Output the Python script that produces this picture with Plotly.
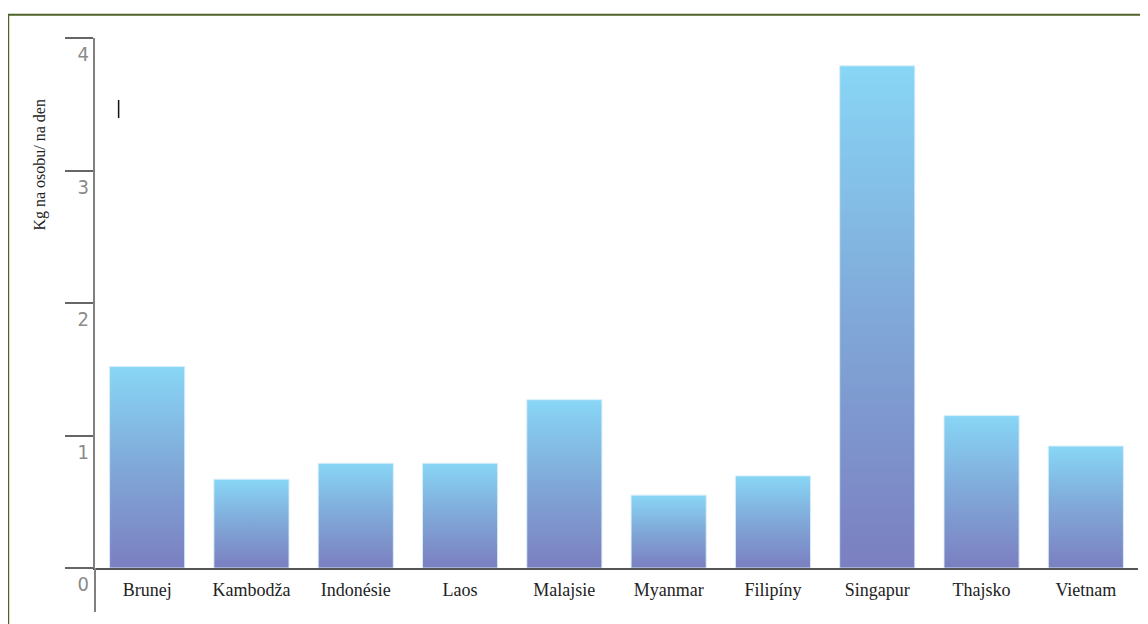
import plotly.graph_objects as go

categories = ["Brunej", "Kambodža", "Indonésie", "Laos", "Malajsie",
              "Myanmar", "Filipíny", "Singapur", "Thajsko", "Vietnam"]
values = [1.52, 0.67, 0.79, 0.79, 1.27, 0.55, 0.695, 3.79, 1.15, 0.92]
y_ticks = [0, 1, 2, 3, 4]
y_title = "Kg na osobu/ na den"

OFF = 8  # page body margin
W, H = 1148 - OFF, 624 - OFF
ML, MR, MT, MB = 95.4 - OFF, 10.4, 38 - OFF, 56
bar_w = 0.72

fig = go.Figure()
for i, (c, v) in enumerate(zip(categories, values)):
    x0, x1 = i - bar_w / 2, i + bar_w / 2
    fig.add_trace(go.Scatter(
        x=[x0, x1, x1, x0, x0], y=[0, 0, v, v, 0],
        mode="lines", fill="toself",
        line=dict(width=1, color="rgba(215,238,250,0.9)"),
        fillgradient=dict(type="vertical",
                          colorscale=[[0, "#7b7fc0"], [0.5, "#80a8d8"], [1, "#88d6f6"]]),
        name=c, showlegend=False, hoverinfo="skip"))

pw = W - ML - MR
ph = H - MT - MB

def px_x(x):
    return (x - OFF - ML) / pw

def px_y(y):
    return (H - MB - (y - OFF)) / ph

fig.update_layout(
    width=W, height=H,
    margin=dict(l=ML, r=MR, t=MT, b=MB, pad=0),
    paper_bgcolor="white", plot_bgcolor="white",
    showlegend=False,
    xaxis=dict(range=[-0.5, len(categories) - 0.5],
               tickvals=list(range(len(categories))), ticktext=categories,
               showgrid=False, zeroline=False,
               showline=True, linecolor="#555555", linewidth=2,
               ticks="", ticklabelstandoff=4,
               tickfont=dict(family="Liberation Serif, DejaVu Serif, serif", size=18, color="#222222")),
    yaxis=dict(range=[0, 4], tickvals=y_ticks, ticktext=[str(t) for t in y_ticks],
               showgrid=False, zeroline=False,
               showline=True, linecolor="#808080", linewidth=2,
               ticks="outside", ticklen=28, tickwidth=2, tickcolor="#666666",
               ticklabelstandoff=-28, ticklabelshift=16,
               tickfont=dict(family="Liberation Sans Narrow, DejaVu Sans Condensed, sans-serif",
                             size=20, color="#8a8a8a")),
    annotations=[dict(text=y_title, textangle=-90, showarrow=False,
                      xref="paper", yref="paper",
                      x=px_x(40), y=px_y(165),
                      xanchor="center", yanchor="middle",
                      font=dict(family="Liberation Serif, DejaVu Serif, serif", size=16, color="#222222"))],
    shapes=[
        dict(type="rect", xref="paper", yref="paper",
             x0=px_x(8.7), x1=1.2, y0=-0.3, y1=px_y(14.7),
             line=dict(color="#4f6228", width=2), fillcolor="rgba(0,0,0,0)", layer="above"),
        dict(type="line", xref="paper", yref="paper",
             x0=0, x1=0, y0=0, y1=px_y(612),
             line=dict(color="#808080", width=2)),
        dict(type="line", xref="paper", yref="paper",
             x0=px_x(119), x1=px_x(119),
             y0=px_y(100), y1=px_y(118),
             line=dict(color="#111111", width=1.5)),
    ],
)

fig.write_html("out.html")
